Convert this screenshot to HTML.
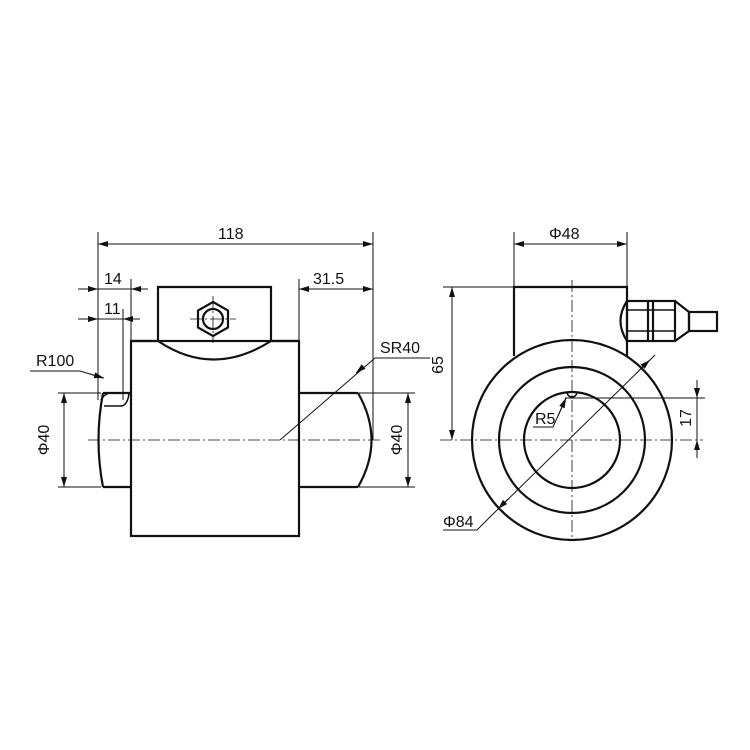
<!DOCTYPE html>
<html><head><style>body{margin:0;background:#fff}svg{display:block}text{font-family:"Liberation Sans",sans-serif;font-size:16px;fill:#111}</style></head>
<body>
<svg width="750" height="750" viewBox="0 0 750 750" xmlns="http://www.w3.org/2000/svg">
<defs>
<marker id="a" viewBox="0 0 10 6" refX="10" refY="3" markerWidth="10" markerHeight="6" orient="auto-start-reverse" markerUnits="userSpaceOnUse"><path d="M0,0L10,3L0,6z" fill="#111"/></marker>
</defs>
<g stroke="#111" fill="none">
<g stroke-width="1">
<line x1="98" y1="232" x2="98" y2="400"/>
<line x1="373" y1="232" x2="373" y2="440"/>
<line x1="98" y1="244" x2="373" y2="244" marker-start="url(#a)" marker-end="url(#a)"/>
<line x1="131" y1="279" x2="131" y2="341"/>
<line x1="78" y1="289" x2="98" y2="289" marker-end="url(#a)"/>
<line x1="148" y1="289" x2="131" y2="289" marker-end="url(#a)"/>
<line x1="98" y1="289" x2="131" y2="289"/>
<line x1="123" y1="309" x2="123" y2="400"/>
<line x1="78" y1="319" x2="98" y2="319" marker-end="url(#a)"/>
<line x1="140" y1="319" x2="123" y2="319" marker-end="url(#a)"/>
<line x1="98" y1="319" x2="123" y2="319"/>
<line x1="299" y1="279" x2="299" y2="341"/>
<line x1="299" y1="289" x2="373" y2="289" marker-start="url(#a)" marker-end="url(#a)"/>
<line x1="58" y1="393" x2="101" y2="393"/>
<line x1="58" y1="487" x2="101" y2="487"/>
<line x1="64" y1="393" x2="64" y2="487" marker-start="url(#a)" marker-end="url(#a)"/>
<line x1="358" y1="393" x2="415" y2="393"/>
<line x1="358" y1="487" x2="415" y2="487"/>
<line x1="408" y1="393" x2="408" y2="487" marker-start="url(#a)" marker-end="url(#a)"/>
<polyline points="280,440 375,358 430,358"/>
<line x1="363" y1="367" x2="356" y2="373" marker-end="url(#a)"/>
<polyline points="30,371 80,371 103,378" />
<line x1="90" y1="374" x2="104" y2="378" marker-end="url(#a)"/>
<line x1="514" y1="232" x2="514" y2="287"/>
<line x1="627" y1="232" x2="627" y2="301"/>
<line x1="514" y1="244" x2="627" y2="244" marker-start="url(#a)" marker-end="url(#a)"/>
<line x1="443" y1="287" x2="514" y2="287"/>
<line x1="452" y1="287" x2="452" y2="440" marker-start="url(#a)" marker-end="url(#a)"/>
<line x1="565" y1="398" x2="705" y2="398"/>
<line x1="697" y1="380" x2="697" y2="398" marker-end="url(#a)"/>
<line x1="697" y1="458" x2="697" y2="440" marker-end="url(#a)"/>
<line x1="697" y1="398" x2="697" y2="440"/>
<polyline points="533,427 553,427 566,398"/>
<line x1="558" y1="416" x2="566" y2="398" marker-end="url(#a)"/>
<line x1="655" y1="355" x2="492" y2="515"/>
<line x1="640" y1="369" x2="650" y2="360" marker-end="url(#a)"/>
<line x1="508" y1="499" x2="498" y2="509" marker-end="url(#a)"/>
<polyline points="443,530 477,530 492,515"/>
</g>
<g stroke-width="0.8" stroke-dasharray="12,3,2,3">
<line x1="88" y1="440" x2="380" y2="440"/>
<line x1="440" y1="440" x2="703" y2="440"/>
<line x1="572" y1="280" x2="572" y2="540"/>
<line x1="190" y1="319" x2="236" y2="319"/>
<line x1="213" y1="296" x2="213" y2="343"/>
</g>
<g stroke-width="2.2">
<rect x="131" y="341" width="168" height="195"/>
<path d="M158,341 V287 H271 V341"/>
<path d="M131,341 H158 Q213,378 271,341 H299"/>
<polygon points="213,302 228,310.5 228,327.5 213,336 198,327.5 198,310.5"/>
<circle cx="213" cy="319" r="10"/>
<path d="M131,393 H103 M131,487 H103 M103,393 Q94,440 103,487"/>
<path d="M101,400 Q104,394 110,393 H129 Q128,404 122,406 H104" stroke-width="1.5"/>
<path d="M299,393 H358 M299,487 H358 M358,393 Q385,440 358,487"/>
<path d="M514,356 V287 H627 V356"/>
<circle cx="572" cy="440" r="100"/>
<circle cx="572" cy="440" r="73"/>
<circle cx="572" cy="440" r="48"/>
<path d="M567,392 A5,5 0 0 0 577,392" stroke-width="1.5"/>
<path d="M627,301 Q614,321 627,341"/>
<rect x="627" y="301" width="21" height="40"/>
<rect x="653" y="301" width="22" height="40"/>
<line x1="648" y1="301" x2="653" y2="301"/><line x1="648" y1="341" x2="653" y2="341"/>
<line x1="627" y1="310" x2="675" y2="310" stroke-width="1.5"/><line x1="627" y1="331" x2="675" y2="331" stroke-width="1.5"/>
<path d="M675,301 L689,312 V331 L675,341"/>
<rect x="689" y="312" width="28" height="19"/>
</g>
</g>
<text x="218" y="239">118</text>
<text x="104" y="284">14</text>
<text x="104" y="314">11</text>
<text x="313" y="284">31.5</text>
<text x="36" y="366">R100</text>
<text x="380" y="353">SR40</text>
<text transform="translate(49,440) rotate(-90)" text-anchor="middle">Φ40</text>
<text transform="translate(402,440) rotate(-90)" text-anchor="middle">Φ40</text>
<text x="549" y="239">Φ48</text>
<text transform="translate(443,365) rotate(-90)" text-anchor="middle">65</text>
<text transform="translate(691,418) rotate(-90)" text-anchor="middle">17</text>
<text x="535" y="424">R5</text>
<text x="443" y="527">Φ84</text>
</svg>
</body></html>
